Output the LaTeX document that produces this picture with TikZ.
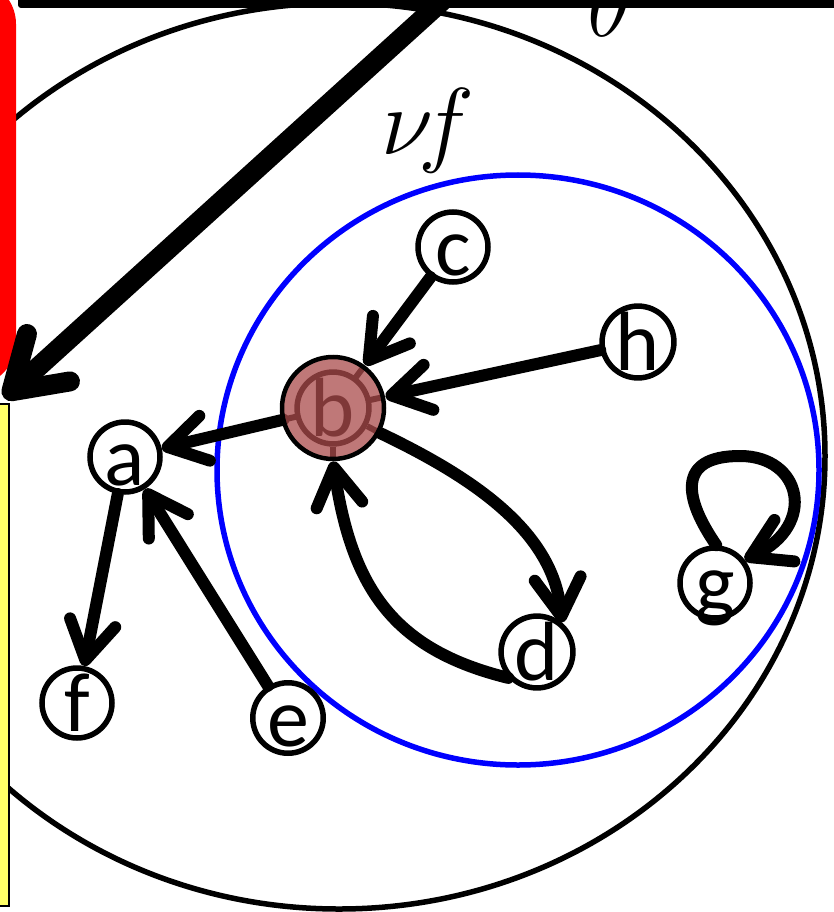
\RequirePackage{fix-cm}
\documentclass[tikz,border=0pt]{standalone}
\usepackage{fontspec}
\newfontfamily\vfont{Carlito}
\usetikzlibrary{arrows.meta,calc}
\definecolor{bred}{RGB}{170,75,75}
\definecolor{lyellow}{RGB}{255,255,102}
\begin{document}
\begin{tikzpicture}[x=1pt,y=-1pt,
  vtx/.style={circle, draw, line width=5.5pt, minimum size=70pt, inner sep=0pt, fill=white,
    font={\vfont\fontsize{84pt}{84pt}\selectfont}, text height=57pt, text depth=0pt},
  edg/.style={line width=12pt, line cap=round, line join=round, -{Straight Barb[length=38pt,width=46pt,round]}},
  intob/.style={edg, shorten >=15pt},
  stub/.style={line width=6pt},
  bigedg/.style={line width=20pt, line cap=round, -{Straight Barb[length=50pt,width=64pt,round]}},
  biglbl/.style={anchor=base, inner sep=0pt, font=\fontsize{95pt}{95pt}\selectfont},
]
\useasboundingbox (0,0) rectangle (834,912);
\clip (0,0) rectangle (834,912);
% outer and inner regions
\draw[line width=5.5pt] (339,456) ellipse[x radius=486pt, y radius=453pt];
\draw[blue, line width=5.5pt] (518,470) ellipse[x radius=301pt, y radius=295pt];
% partial shapes at the border
\fill[rounded corners=3pt] (18,-20) rectangle (860,8);
\fill[red, rounded corners=44pt] (-70,-20) rectangle (16,386);
\draw[line width=2.5pt, fill=lyellow] (-30,404) rectangle (9,906);
% labels
\node[biglbl] (nf) at (428,155) {$\nu\!f$};
\node[biglbl] (th) at (610,37) {$\theta$};
% big arrow
\coordinate (bigS) at (452,-8);
\coordinate (bigE) at (4,398);
\draw[bigedg] (bigS) -- (bigE);
% vertices
\node[vtx] (a) at (125,457) {a};
\node[vtx] (b) at (333,408) {b};
\node[vtx] (c) at (453,247) {c};
\node[vtx] (d) at (537,652) {d};
\node[vtx] (e) at (288,718) {e};
\node[vtx] (f) at (77,703) {f};
\node[vtx] (g) at (715,583) {g};
\node[vtx] (h) at (638,342) {h};
% points on the rim of the highlight disk
\coordinate (bd) at ($(b.center)!1.38!(b.-28)$);
\coordinate (bu) at ($(b.center)!1.38!(b.-90)$);
\coordinate (ba) at ($(b.center)!51pt!(a.center)$);
% spokes of the edges under the highlight disk
\draw[stub] (b.-28) -- (bd);
\draw[stub] (b.-90) -- (bu);
\draw[stub] ($(b.center)!37pt!(a.center)$) -- (ba);
\draw[stub] ($(b.center)!37pt!(c.center)$) -- ($(b.center)!51pt!(c.center)$);
\draw[stub] ($(b.center)!37pt!(h.center)$) -- ($(b.center)!51pt!(h.center)$);
% edges
\draw[intob] (c) -- (b);
\draw[intob] (h) -- (b);
\draw[edg] (ba) -- (a);
\draw[edg] (a) -- (f);
\draw[edg] (e) -- (a);
\draw[edg] (bd) .. controls (470,476) and (553,530) .. (d.50);
\draw[edg] (d.222) .. controls (395,650) and (352,590) .. (bu);
\draw[edg] (g.88) .. controls (685,500) and (675,456) .. (740,456) .. controls (802,456) and (817,525) .. (g.38);
% highlighted vertex overlay
\draw[line width=4.5pt, fill=bred, fill opacity=0.75] (b.center) circle[radius=51pt];
\end{tikzpicture}
\end{document}
